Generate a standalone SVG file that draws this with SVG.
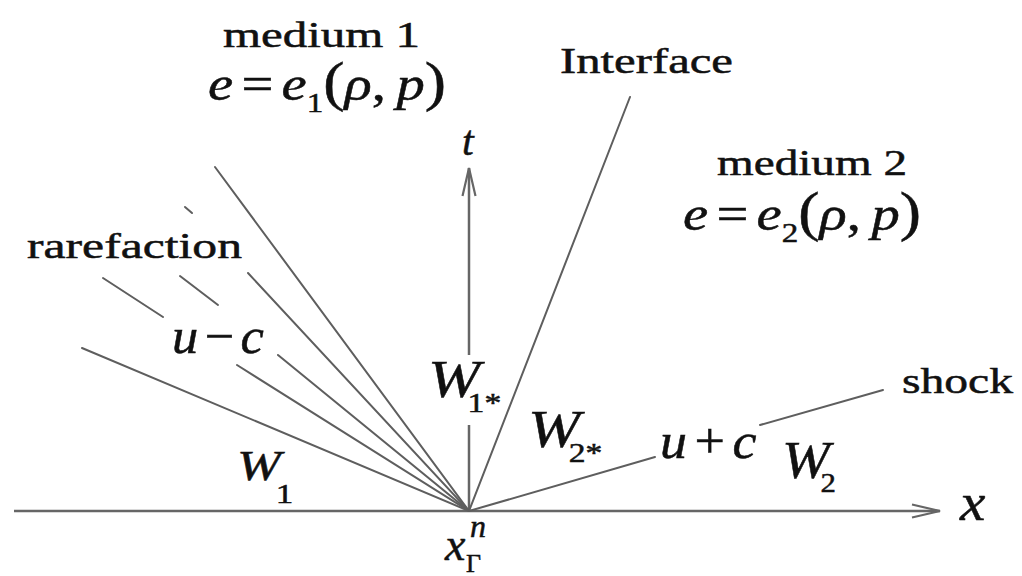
<svg xmlns="http://www.w3.org/2000/svg" width="1022" height="576" viewBox="0 0 1022 576">
<style>
.ln{stroke:#5e5e5e;stroke-width:2;fill:none;stroke-linecap:round}
.ax{stroke:#666;stroke-width:2.5;fill:none}
text{font-family:'Liberation Serif','Times New Roman',serif;fill:#111;stroke:#111;stroke-width:0.5}
.tx{font-size:36px}
.m{font-style:italic}
.u{font-style:normal}
</style>
<defs>
<marker id="arr" markerUnits="userSpaceOnUse" markerWidth="32" markerHeight="16" refX="29" refY="8" orient="auto">
<path d="M1,1.5 L29,8 L1,14.5" fill="none" stroke="#666" stroke-width="2.2"/>
</marker>
</defs>
<rect width="1022" height="576" fill="#fff"/>
<g id="connectors">
<line class="ax" x1="14" y1="511" x2="940" y2="511" marker-end="url(#arr)"/>
<line class="ax" x1="469" y1="511" x2="469" y2="425"/>
<line class="ax" x1="469" y1="355" x2="469" y2="168" marker-end="url(#arr)"/>
<line class="ln" x1="215" y1="167" x2="469" y2="511"/>
<line class="ln" x1="185" y1="207" x2="192" y2="213"/>
<line class="ln" x1="248" y1="273" x2="469" y2="511"/>
<line class="ln" x1="180" y1="276" x2="218" y2="305"/>
<line class="ln" x1="278" y1="355" x2="469" y2="511"/>
<line class="ln" x1="103" y1="278" x2="163" y2="317"/>
<line class="ln" x1="237" y1="365" x2="469" y2="511"/>
<line class="ln" x1="82" y1="348" x2="469" y2="511"/>
<line class="ln" x1="630" y1="97" x2="469" y2="511"/>
<line class="ln" x1="469" y1="511" x2="655" y2="457"/>
<line class="ln" x1="760" y1="425" x2="883" y2="390"/>
</g>
<g id="medium1">
<text class="tx" x="223" y="47" textLength="197" lengthAdjust="spacingAndGlyphs">medium 1</text>
<text class="m" font-size="48" transform="translate(208,100) scale(1.18,1)">e<tspan class="u" dx="7">=</tspan><tspan dx="7">e</tspan><tspan class="u" font-size="28" dy="12">1</tspan><tspan class="u" font-size="54" dy="-12">(</tspan>ρ<tspan class="u">,</tspan><tspan dx="9">p</tspan><tspan class="u" font-size="54">)</tspan></text>
</g>
<g id="interface">
<text class="tx" x="560" y="73" textLength="173" lengthAdjust="spacingAndGlyphs">Interface</text>
</g>
<g id="medium2">
<text class="tx" x="717" y="175" textLength="190" lengthAdjust="spacingAndGlyphs">medium 2</text>
<text class="m" font-size="48" transform="translate(683,230) scale(1.18,1)">e<tspan class="u" dx="7">=</tspan><tspan dx="7">e</tspan><tspan class="u" font-size="28" dy="12">2</tspan><tspan class="u" font-size="54" dy="-12">(</tspan>ρ<tspan class="u">,</tspan><tspan dx="9">p</tspan><tspan class="u" font-size="54">)</tspan></text>
</g>
<g id="rarefaction">
<text class="tx" x="27" y="258" textLength="215" lengthAdjust="spacingAndGlyphs">rarefaction</text>
<text class="m" font-size="50" transform="translate(172,353) scale(1.05,1)">u<tspan class="u" dx="6">−</tspan><tspan dx="6">c</tspan></text>
</g>
<g id="shock">
<text class="tx" x="902" y="393" textLength="111" lengthAdjust="spacingAndGlyphs">shock</text>
<text class="m" font-size="50" transform="translate(660,458) scale(1.08,1)">u<tspan class="u" dx="7">+</tspan><tspan dx="7">c</tspan></text>
</g>
<g id="t-label">
<text class="m" font-size="42" x="462" y="155">t</text>
</g>
<g id="x-label">
<text class="m" font-size="52" transform="translate(960,520) scale(1.1,1)">x</text>
</g>
<g id="W1">
<text class="m" font-size="42" transform="translate(237,480) scale(1.25,1)">W<tspan class="u" font-size="28" x="31" dy="23">1</tspan></text>
</g>
<g id="W1star">
<text class="m" font-size="52" transform="translate(428,397) scale(1.2,1)">W<tspan class="u" font-size="28" x="33" dy="15">1*</tspan></text>
</g>
<g id="W2star">
<text class="m" font-size="52" transform="translate(528,447) scale(1.2,1)">W<tspan class="u" font-size="28" x="34" dy="15">2*</tspan></text>
</g>
<g id="W2">
<text class="m" font-size="52" transform="translate(782,478) scale(1.1,1)">W<tspan class="u" font-size="28" x="35" dy="14">2</tspan></text>
</g>
<g id="origin">
<text class="m" font-size="46"><tspan x="445" y="560">x</tspan><tspan font-size="32" x="470" y="537">n</tspan><tspan class="u" font-size="26" x="466" y="572">Γ</tspan></text>
</g>
</svg>
